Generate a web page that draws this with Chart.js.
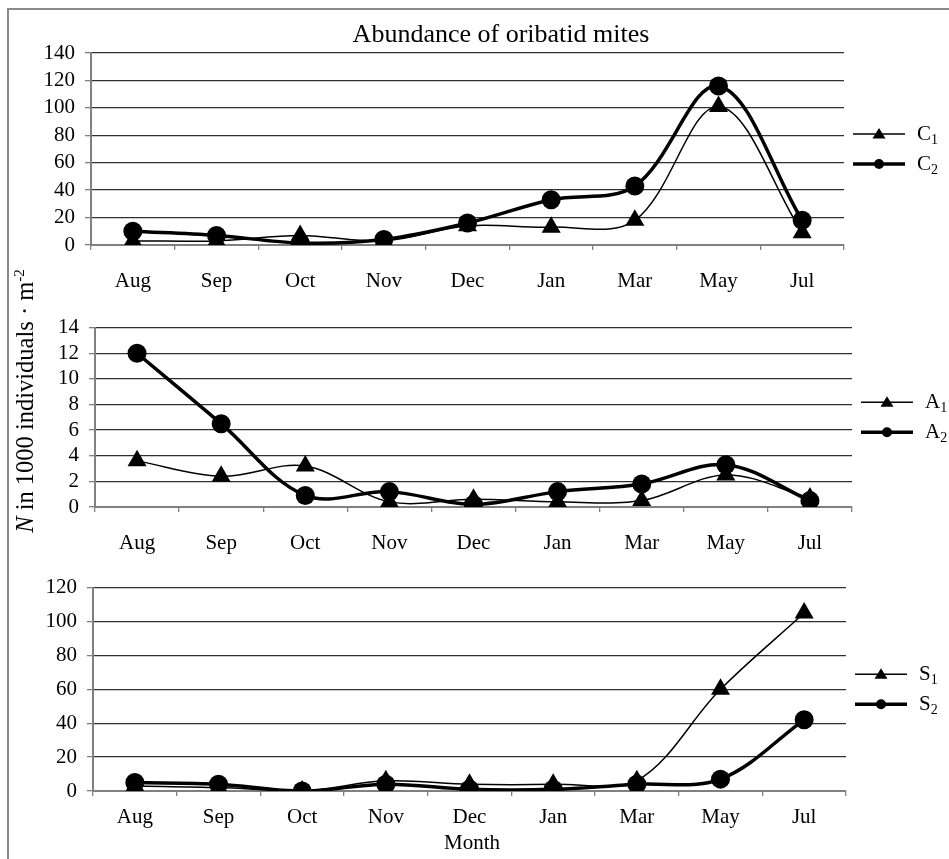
<!DOCTYPE html>
<html>
<head>
<meta charset="utf-8">
<script src="https://cdn.jsdelivr.net/npm/chart.js@4.4.1/dist/chart.umd.min.js"></script>
<style>
html, body { margin: 0; padding: 0; background: #fff; overflow: hidden; }
#page { position: relative; width: 949px; height: 859px; overflow: hidden;
        font-family: "Liberation Serif", "Times New Roman", serif; color: #000; }
#frame { position: absolute; left: 7px; top: 8px; width: 1000px; height: 900px; border: 2px solid #8a8a8a; }
.panel { position: absolute; left: 0; width: 949px; }
#title { position: absolute; left: 0; width: 1002px; top: 19px; line-height: 30px; text-align: center; font-size: 26px; }
#ylabel { position: absolute; left: -135px; top: 386px; width: 320px; height: 30px; line-height: 30px;
          text-align: center; font-size: 24.5px; transform: rotate(-90deg); white-space: nowrap; }
#ylabel sup { font-size: 15px; line-height: 0; }
#xlabel { position: absolute; left: 372px; width: 200px; top: 830px; line-height: 24px; text-align: center; font-size: 21px; }
</style>
</head>
<body>
<div id="page">
  <div id="frame"></div>
  <div class="panel" style="top:30px;height:280px"><canvas id="chartC" width="949" height="280"></canvas></div>
  <div class="panel" style="top:305px;height:265px"><canvas id="chartA" width="949" height="265"></canvas></div>
  <div class="panel" style="top:565px;height:294px"><canvas id="chartS" width="949" height="294"></canvas></div>
  <div id="title">Abundance of oribatid mites</div>
  <div id="ylabel"><i>N</i> in 1000 individuals · m<sup>-2</sup></div>
  <div id="xlabel">Month</div>
</div>
<script>
// months sampled
const months = ['Aug', 'Sep', 'Oct', 'Nov', 'Dec', 'Jan', 'Mar', 'May', 'Jul'];

// panel C
const c1 = [3, 3, 7, 3, 14, 13, 18, 101, 9];
const c2 = [10, 7, 1.5, 4, 16, 33, 43, 116, 18];
// panel A
const a1 = [3.6, 2.4, 3.2, 0.4, 0.6, 0.4, 0.5, 2.5, 0.7];
const a2 = [12, 6.5, 0.9, 1.2, 0.2, 1.2, 1.8, 3.3, 0.5];
// panel S
const s1 = [3, 2, 0, 6, 4, 4, 6, 60, 105];
const s2 = [5, 4, 0, 4, 1, 1, 4, 7, 42];

const FONT = '"Liberation Serif", "Times New Roman", serif';

// legend drawn to the right of the plot: line + marker + label with subscript
const sideLegend = {
    id: 'sideLegend',
    afterDraw(chart) {
        const ctx = chart.ctx;
        const area = chart.chartArea;
        const mid = (area.top + area.bottom) / 2;
        chart.data.datasets.forEach((ds, i) => {
            const y = mid + (i - 0.5) * 30;
            const x0 = area.right + 9;
            const x1 = x0 + 52;
            const xm = (x0 + x1) / 2;
            ctx.save();
            ctx.strokeStyle = '#000';
            ctx.fillStyle = '#000';
            ctx.lineWidth = ds.borderWidth;
            ctx.beginPath();
            ctx.moveTo(x0, y);
            ctx.lineTo(x1, y);
            ctx.stroke();
            ctx.beginPath();
            if (ds.pointStyle === 'triangle') {
                ctx.moveTo(xm, y - 6);
                ctx.lineTo(xm + 6.5, y + 4.5);
                ctx.lineTo(xm - 6.5, y + 4.5);
                ctx.closePath();
            } else {
                ctx.arc(xm, y, 5, 0, Math.PI * 2);
            }
            ctx.fill();
            const base = ds.label.slice(0, 1);
            const sub = ds.label.slice(1);
            ctx.textBaseline = 'middle';
            ctx.font = '21px ' + FONT;
            ctx.fillText(base, x1 + 12, y);
            const w = ctx.measureText(base).width;
            ctx.font = '14px ' + FONT;
            ctx.fillText(sub, x1 + 12 + w, y + 6);
            ctx.restore();
        });
    }
};

function makePanel(id, canvasTop, canvasH, area, names, series, yMax, yStep, tickPad) {
    const padLeft = 40;
    const xAxisH = 50;
    const padTop = area.top - canvasTop;
    const padBottom = canvasH - (area.bottom - canvasTop) - xAxisH;
    return new Chart(document.getElementById(id), {
        type: 'line',
        data: {
            labels: months,
            datasets: [
                {
                    label: names[0],
                    data: series[0],
                    borderColor: '#000',
                    backgroundColor: '#000',
                    borderWidth: 1.5,
                    tension: 0.35,
                    pointStyle: 'triangle',
                    pointRadius: 11,
                    pointBorderWidth: 0,
                    fill: false
                },
                {
                    label: names[1],
                    data: series[1],
                    borderColor: '#000',
                    backgroundColor: '#000',
                    borderWidth: 3.5,
                    tension: 0.35,
                    pointStyle: 'circle',
                    pointRadius: 9.5,
                    pointBorderWidth: 0,
                    fill: false
                }
            ]
        },
        options: {
            responsive: false,
            animation: false,
            events: [],
            layout: {
                padding: { left: padLeft, right: 949 - area.right, top: padTop, bottom: padBottom }
            },
            plugins: {
                legend: { display: false },
                tooltip: { enabled: false }
            },
            scales: {
                x: {
                    offset: true,
                    grid: { offset: true, drawOnChartArea: false, drawTicks: true, tickLength: 5, tickColor: '#808080', lineWidth: 1.3 },
                    border: { display: true, color: '#808080', width: 2 },
                    ticks: { color: '#000', font: { family: FONT, size: 21 }, padding: tickPad, autoSkip: false, maxRotation: 0 },
                    afterFit(scale) { scale.height = xAxisH; }
                },
                y: {
                    min: 0,
                    max: yMax,
                    grid: { color: '#303030', lineWidth: 1.3, drawTicks: true, tickLength: 6, tickColor: '#808080' },
                    border: { display: true, color: '#808080', width: 2 },
                    ticks: { stepSize: yStep, autoSkip: false, color: '#000', font: { family: FONT, size: 21 }, padding: 10 },
                    afterFit(scale) { scale.width = area.left - padLeft; }
                }
            }
        },
        plugins: [sideLegend]
    });
}

makePanel('chartC', 30, 280, { left: 91, right: 844, top: 53, bottom: 245 }, ['C1', 'C2'], [c1, c2], 140, 20, 19);
makePanel('chartA', 305, 265, { left: 95, right: 852, top: 325, bottom: 507 }, ['A1', 'A2'], [a1, a2], 14, 2, 19);
makePanel('chartS', 565, 294, { left: 93, right: 846, top: 587, bottom: 791 }, ['S1', 'S2'], [s1, s2], 120, 20, 9);
</script>
</body>
</html>
